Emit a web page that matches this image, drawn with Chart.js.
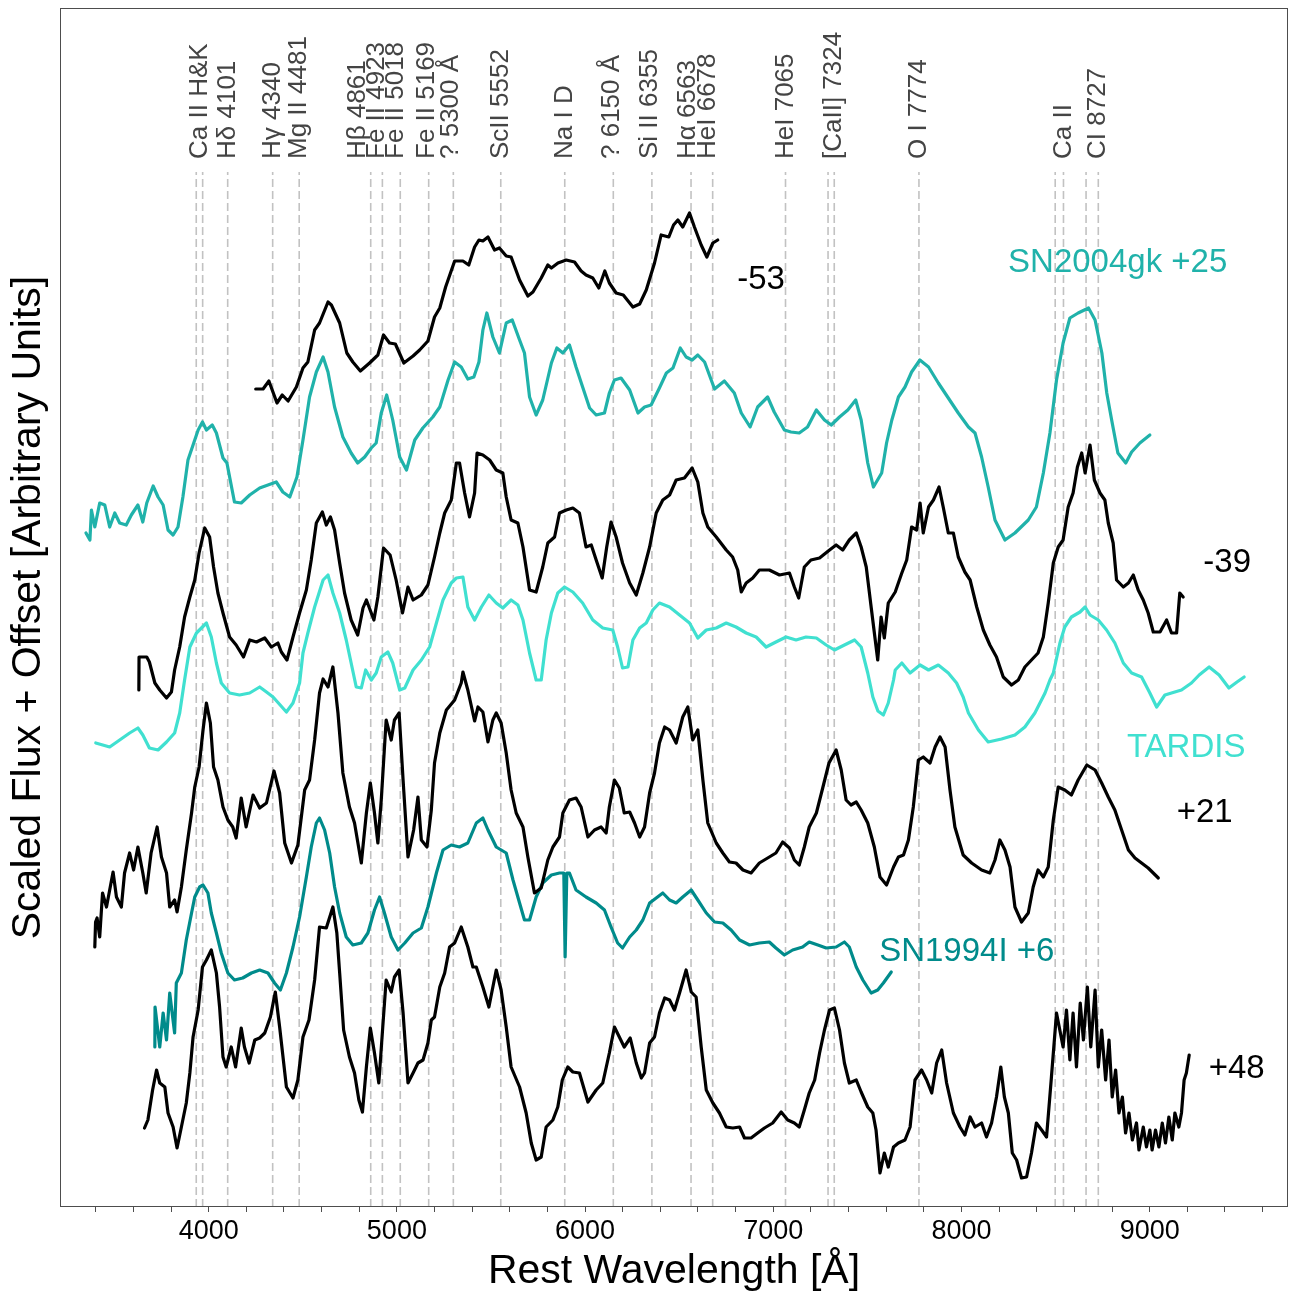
<!DOCTYPE html>
<html>
<head>
<meta charset="utf-8">
<title>Spectral sequence</title>
<script src="https://cdn.jsdelivr.net/npm/chart.js@4.4.0/dist/chart.umd.min.js"></script>
<style>
  html, body { margin: 0; padding: 0; background: #fff; }
  canvas { display: block; }
</style>
</head>
<body>
<canvas id="spectraChart" width="1289" height="1296"></canvas>
<script>
// rest wavelength [A], scaled flux + offset
const specM53 = [[4250,8.18],[4289,8.18],[4320,8.26],[4363,8.04],[4391,8.12],[4422,8.06],[4466,8.20],[4501,8.39],[4527,8.45],[4563,8.77],[4589,8.84],[4634,9.05],[4652,9.02],[4696,8.84],[4734,8.54],[4766,8.45],[4806,8.36],[4855,8.44],[4899,8.52],[4929,8.72],[4961,8.64],[4992,8.63],[5037,8.44],[5086,8.51],[5121,8.57],[5165,8.66],[5200,8.90],[5228,8.99],[5259,9.20],[5307,9.46],[5351,9.46],[5382,9.42],[5413,9.60],[5436,9.67],[5457,9.66],[5484,9.70],[5519,9.57],[5545,9.59],[5581,9.51],[5607,9.50],[5652,9.27],[5696,9.11],[5723,9.15],[5767,9.29],[5802,9.42],[5821,9.39],[5856,9.44],[5900,9.47],[5944,9.45],[5979,9.36],[6005,9.32],[6041,9.29],[6073,9.19],[6105,9.36],[6129,9.24],[6165,9.14],[6203,9.12],[6254,9.00],[6290,9.03],[6325,9.17],[6369,9.44],[6404,9.72],[6445,9.70],[6470,9.82],[6493,9.87],[6519,9.80],[6555,9.94],[6581,9.80],[6617,9.62],[6647,9.50],[6679,9.64],[6705,9.67]];

const specGk = [[3348,6.74],[3369,6.67],[3377,6.97],[3395,6.80],[3421,7.04],[3448,7.02],[3474,6.80],[3501,6.94],[3527,6.84],[3562,6.82],[3589,6.92],[3624,7.02],[3650,6.85],[3671,7.04],[3705,7.21],[3731,7.10],[3758,7.02],[3784,6.77],[3811,6.72],[3837,6.80],[3863,7.10],[3890,7.47],[3917,7.62],[3944,7.77],[3967,7.85],[3988,7.77],[4019,7.82],[4041,7.74],[4076,7.49],[4097,7.44],[4137,7.05],[4173,7.04],[4218,7.12],[4271,7.19],[4315,7.22],[4359,7.25],[4394,7.15],[4431,7.10],[4469,7.30],[4501,7.67],[4536,8.10],[4572,8.35],[4608,8.50],[4634,8.35],[4669,8.00],[4713,7.70],[4757,7.54],[4792,7.44],[4829,7.50],[4864,7.59],[4890,7.64],[4917,7.94],[4946,8.12],[4978,7.87],[5015,7.50],[5051,7.37],[5095,7.67],[5138,7.79],[5191,7.90],[5228,8.00],[5272,8.27],[5307,8.45],[5342,8.40],[5377,8.28],[5409,8.30],[5436,8.45],[5457,8.77],[5478,8.94],[5510,8.70],[5545,8.54],[5581,8.84],[5613,8.87],[5652,8.67],[5678,8.54],[5705,8.10],[5740,7.92],[5775,8.07],[5821,8.44],[5850,8.59],[5882,8.54],[5917,8.62],[5952,8.40],[5987,8.20],[6024,7.99],[6059,7.92],[6103,7.94],[6129,8.14],[6156,8.27],[6191,8.29],[6237,8.17],[6281,7.94],[6316,8.00],[6351,8.02],[6395,8.19],[6432,8.34],[6467,8.39],[6506,8.59],[6537,8.50],[6569,8.47],[6599,8.52],[6635,8.45],[6688,8.18],[6740,8.26],[6793,8.14],[6830,7.94],[6877,7.80],[6917,8.00],[6970,8.10],[7005,7.95],[7059,7.77],[7094,7.75],[7138,7.74],[7182,7.80],[7229,7.97],[7272,7.87],[7308,7.82],[7352,7.90],[7396,7.97],[7438,8.07],[7467,7.87],[7502,7.44],[7532,7.20],[7576,7.34],[7602,7.64],[7630,7.87],[7665,8.10],[7700,8.20],[7735,8.35],[7779,8.47],[7825,8.40],[7877,8.24],[7930,8.09],[7983,7.94],[8037,7.80],[8072,7.74],[8107,7.50],[8142,7.20],[8178,6.87],[8231,6.67],[8284,6.74],[8355,6.87],[8398,7.00],[8435,7.34],[8470,7.74],[8505,8.27],[8540,8.64],[8576,8.89],[8620,8.94],[8675,8.99],[8710,8.87],[8746,8.54],[8772,8.14],[8798,7.87],[8831,7.54],[8873,7.44],[8904,7.55],[8948,7.64],[9001,7.72]];

const specM39 = [[3629,5.17],[3630,5.50],[3671,5.50],[3685,5.45],[3714,5.24],[3740,5.17],[3776,5.09],[3802,5.15],[3819,5.37],[3846,5.60],[3872,5.90],[3900,6.10],[3926,6.27],[3949,6.54],[3979,6.79],[4005,6.70],[4026,6.40],[4049,6.14],[4076,5.94],[4111,5.70],[4146,5.62],[4185,5.50],[4218,5.67],[4254,5.65],[4298,5.69],[4333,5.60],[4368,5.64],[4386,5.55],[4416,5.47],[4448,5.70],[4483,5.94],[4519,6.17],[4545,6.47],[4572,6.84],[4604,6.95],[4625,6.82],[4647,6.90],[4669,6.77],[4696,6.44],[4722,6.14],[4757,5.87],[4792,5.72],[4820,5.99],[4838,6.07],[4878,5.87],[4899,6.10],[4929,6.59],[4964,6.52],[4996,6.27],[5030,5.94],[5059,6.20],[5086,6.07],[5130,6.12],[5165,6.22],[5200,6.50],[5228,6.74],[5254,6.94],[5289,7.07],[5316,7.44],[5333,7.44],[5360,7.14],[5386,6.90],[5413,7.14],[5426,7.54],[5457,7.52],[5493,7.47],[5528,7.37],[5563,7.34],[5581,7.10],[5607,6.87],[5643,6.84],[5670,6.60],[5705,6.17],[5740,6.15],[5775,6.40],[5802,6.64],[5838,6.70],[5864,6.94],[5900,6.97],[5935,6.99],[5970,6.94],[6005,6.60],[6033,6.62],[6059,6.47],[6091,6.29],[6115,6.60],[6138,6.85],[6165,6.70],[6199,6.44],[6237,6.24],[6272,6.12],[6307,6.34],[6343,6.60],[6378,6.94],[6413,7.07],[6449,7.12],[6484,7.27],[6528,7.29],[6569,7.39],[6599,7.25],[6626,6.94],[6652,6.80],[6697,6.70],[6750,6.57],[6784,6.50],[6811,6.37],[6830,6.15],[6856,6.24],[6891,6.29],[6926,6.37],[6979,6.37],[7033,6.32],[7086,6.34],[7112,6.20],[7135,6.09],[7165,6.40],[7200,6.47],[7246,6.49],[7299,6.57],[7334,6.62],[7369,6.57],[7404,6.67],[7441,6.74],[7467,6.60],[7494,6.40],[7520,6.00],[7555,5.47],[7573,5.90],[7590,5.69],[7611,6.04],[7648,6.15],[7683,6.34],[7709,6.47],[7735,6.80],[7762,6.77],[7780,7.04],[7797,6.74],[7825,7.00],[7851,7.07],[7881,7.20],[7904,6.99],[7930,6.74],[7957,6.74],[7983,6.50],[8018,6.35],[8046,6.27],[8081,6.00],[8116,5.77],[8151,5.62],[8186,5.50],[8222,5.30],[8266,5.22],[8302,5.27],[8337,5.40],[8372,5.47],[8407,5.54],[8435,5.70],[8461,6.04],[8488,6.44],[8514,6.60],[8540,6.67],[8567,7.00],[8593,7.14],[8616,7.40],[8639,7.54],[8657,7.34],[8683,7.62],[8706,7.27],[8736,7.14],[8762,7.07],[8780,6.84],[8806,6.64],[8824,6.27],[8860,6.20],[8887,6.24],[8913,6.32],[8939,6.17],[8966,6.07],[8992,5.94],[9019,5.75],[9055,5.75],[9090,5.87],[9116,5.74],[9143,5.74],[9160,6.14],[9178,6.10]];

const specTardis = [[3400,4.64],[3474,4.60],[3527,4.67],[3580,4.74],[3624,4.79],[3650,4.72],[3685,4.59],[3731,4.57],[3776,4.65],[3819,4.74],[3846,4.94],[3872,5.27],[3900,5.60],[3935,5.74],[3988,5.84],[4014,5.70],[4041,5.44],[4067,5.24],[4111,5.14],[4164,5.12],[4218,5.14],[4271,5.20],[4307,5.15],[4342,5.10],[4413,4.95],[4448,5.04],[4483,5.24],[4501,5.54],[4527,5.74],[4563,6.00],[4608,6.27],[4634,6.32],[4660,6.14],[4696,5.94],[4731,5.67],[4757,5.44],[4784,5.20],[4811,5.19],[4834,5.37],[4864,5.27],[4890,5.34],[4917,5.50],[4952,5.55],[4978,5.44],[5015,5.17],[5042,5.19],[5086,5.37],[5130,5.47],[5174,5.60],[5210,5.84],[5245,6.07],[5289,6.24],[5316,6.29],[5351,6.30],[5377,6.00],[5413,5.87],[5449,6.00],[5489,6.12],[5528,6.04],[5563,5.99],[5607,6.07],[5643,6.02],[5670,5.87],[5705,5.54],[5740,5.27],[5767,5.27],[5793,5.67],[5821,5.94],[5855,6.14],[5891,6.20],[5935,6.15],[5987,6.04],[6041,5.87],[6094,5.79],[6147,5.77],[6173,5.60],[6199,5.39],[6228,5.40],[6254,5.67],[6290,5.79],[6325,5.84],[6360,5.97],[6395,6.04],[6449,6.00],[6502,5.92],[6555,5.84],[6599,5.69],[6644,5.77],[6697,5.79],[6750,5.84],[6802,5.80],[6856,5.74],[6909,5.70],[6962,5.60],[7014,5.65],[7068,5.70],[7121,5.67],[7174,5.70],[7229,5.69],[7281,5.62],[7325,5.57],[7378,5.62],[7432,5.67],[7467,5.60],[7502,5.34],[7529,5.10],[7556,4.96],[7585,4.92],[7611,5.04],[7639,5.27],[7648,5.37],[7683,5.44],[7727,5.34],[7780,5.42],[7825,5.37],[7877,5.42],[7930,5.34],[7974,5.24],[8009,5.10],[8037,4.94],[8090,4.77],[8142,4.65],[8213,4.68],[8284,4.72],[8337,4.80],[8390,4.94],[8444,5.14],[8470,5.27],[8488,5.34],[8523,5.64],[8549,5.80],[8584,5.90],[8630,5.95],[8657,6.00],[8683,5.92],[8727,5.87],[8771,5.77],[8815,5.64],[8860,5.44],[8904,5.34],[8957,5.30],[9001,5.14],[9037,5.00],[9081,5.12],[9116,5.14],[9169,5.17],[9222,5.24],[9263,5.32],[9316,5.40],[9369,5.32],[9421,5.19],[9464,5.25],[9502,5.30]];

const specP21 = [[3395,2.60],[3399,2.85],[3407,2.89],[3421,2.70],[3436,3.14],[3457,3.00],[3474,3.17],[3492,3.35],[3510,3.10],[3536,3.00],[3553,3.34],[3580,3.54],[3601,3.37],[3624,3.60],[3650,3.34],[3668,3.14],[3694,3.54],[3726,3.80],[3749,3.50],[3776,3.34],[3793,3.00],[3819,3.07],[3832,2.95],[3855,3.20],[3881,3.57],[3909,3.94],[3926,4.20],[3949,4.40],[3970,4.77],[3988,5.04],[4009,4.84],[4026,4.40],[4049,4.27],[4076,4.00],[4102,3.87],[4128,3.80],[4146,3.69],[4173,4.09],[4199,3.80],[4236,4.12],[4271,3.99],[4307,4.04],[4347,4.36],[4377,4.14],[4404,3.64],[4440,3.44],[4474,3.62],[4510,4.17],[4536,4.27],[4563,4.67],[4589,5.14],[4608,5.28],[4634,5.20],[4660,5.40],[4687,4.94],[4713,4.34],[4748,4.00],[4775,3.84],[4811,3.44],[4838,3.94],[4859,4.24],[4881,3.94],[4899,3.64],[4917,4.07],[4943,4.87],[4970,4.67],[4987,4.87],[5012,4.94],[5033,4.27],[5059,3.50],[5089,3.77],[5112,4.10],[5130,3.67],[5160,3.60],[5183,3.97],[5200,4.44],[5228,4.74],[5263,4.97],[5307,5.07],[5342,5.24],[5351,5.35],[5377,5.17],[5413,4.86],[5431,5.00],[5457,4.95],[5484,4.65],[5510,4.87],[5528,4.94],[5554,4.84],[5581,4.54],[5607,4.17],[5634,3.94],[5670,3.80],[5696,3.50],[5731,3.14],[5767,3.19],[5802,3.47],[5829,3.60],[5864,3.70],[5882,3.94],[5917,4.07],[5952,4.09],[5979,4.00],[6015,3.70],[6050,3.77],[6085,3.80],[6112,3.74],[6129,4.00],[6156,4.27],[6182,4.19],[6208,3.94],[6237,3.95],[6263,3.84],[6290,3.70],[6316,3.80],[6343,4.14],[6369,4.34],[6395,4.64],[6423,4.80],[6449,4.77],[6484,4.64],[6519,4.90],[6546,5.00],[6572,4.67],[6599,4.77],[6626,4.27],[6652,3.84],[6697,3.64],[6732,3.54],[6767,3.45],[6802,3.44],[6839,3.37],[6882,3.34],[6926,3.44],[6979,3.50],[7014,3.54],[7050,3.65],[7086,3.59],[7112,3.47],[7138,3.42],[7165,3.60],[7191,3.80],[7229,3.94],[7264,4.20],[7296,4.44],[7334,4.57],[7361,4.37],[7387,4.07],[7413,4.02],[7441,4.05],[7467,3.97],[7502,3.84],[7537,3.60],[7567,3.30],[7602,3.22],[7639,3.40],[7665,3.50],[7692,3.52],[7718,3.67],[7744,4.00],[7771,4.47],[7797,4.50],[7833,4.44],[7860,4.60],[7886,4.70],[7913,4.60],[7939,4.17],[7965,3.80],[8009,3.52],[8054,3.44],[8107,3.37],[8151,3.34],[8178,3.47],[8204,3.67],[8231,3.57],[8258,3.40],[8284,3.00],[8319,2.85],[8355,2.94],[8381,3.20],[8407,3.37],[8435,3.30],[8461,3.40],[8488,3.87],[8514,4.20],[8549,4.17],[8584,4.12],[8620,4.27],[8666,4.42],[8710,4.37],[8745,4.24],[8780,4.10],[8815,3.97],[8851,3.77],[8887,3.57],[8922,3.49],[8957,3.44],[8992,3.39],[9046,3.29]];

const spec94I = [[3714,1.60],[3715,2.00],[3740,1.60],[3758,1.94],[3776,1.67],[3793,2.14],[3819,1.74],[3828,2.24],[3855,2.34],[3881,2.67],[3909,2.94],[3926,3.10],[3952,3.20],[3970,3.22],[3996,3.14],[4014,2.94],[4041,2.74],[4067,2.54],[4102,2.34],[4137,2.27],[4181,2.29],[4227,2.34],[4271,2.37],[4315,2.34],[4350,2.24],[4381,2.17],[4413,2.34],[4448,2.60],[4483,2.90],[4519,3.30],[4545,3.60],[4572,3.84],[4589,3.89],[4616,3.77],[4643,3.54],[4669,3.20],[4696,2.94],[4731,2.70],[4766,2.62],[4811,2.64],[4846,2.74],[4881,2.97],[4908,3.10],[4934,2.94],[4970,2.70],[5006,2.57],[5042,2.64],[5086,2.74],[5130,2.79],[5165,3.00],[5210,3.34],[5245,3.57],[5289,3.62],[5333,3.60],[5377,3.64],[5422,3.84],[5457,3.89],[5484,3.77],[5528,3.60],[5581,3.54],[5617,3.27],[5652,3.04],[5678,2.87],[5705,2.87],[5740,3.10],[5775,3.24],[5821,3.32],[5864,3.34],[5887,3.34],[5894,2.50],[5903,3.34],[5917,3.34],[5952,3.17],[6005,3.10],[6059,3.04],[6103,2.97],[6138,2.80],[6173,2.64],[6199,2.59],[6237,2.70],[6272,2.77],[6307,2.87],[6343,3.04],[6378,3.09],[6413,3.14],[6449,3.07],[6484,3.04],[6519,3.10],[6564,3.17],[6599,3.07],[6644,2.94],[6688,2.85],[6732,2.84],[6776,2.77],[6821,2.67],[6874,2.62],[6926,2.64],[6979,2.65],[7014,2.59],[7059,2.52],[7103,2.57],[7156,2.60],[7191,2.65],[7237,2.62],[7281,2.59],[7334,2.60],[7378,2.65],[7404,2.60],[7441,2.40],[7476,2.27],[7520,2.14],[7555,2.17],[7585,2.24],[7627,2.35]];

const specP48 = [[3659,0.79],[3677,0.87],[3702,1.17],[3723,1.37],[3740,1.24],[3767,1.20],[3784,0.94],[3811,0.80],[3832,0.59],[3855,0.80],[3881,1.04],[3900,1.34],[3917,1.70],[3944,1.97],[3967,2.40],[3988,2.47],[4014,2.57],[4041,2.34],[4058,2.00],[4076,1.50],[4093,1.40],[4120,1.60],[4143,1.40],[4173,1.79],[4190,1.60],[4215,1.44],[4245,1.67],[4271,1.69],[4298,1.74],[4328,1.90],[4354,2.15],[4377,1.80],[4413,1.20],[4448,1.09],[4474,1.27],[4501,1.70],[4533,1.87],[4563,2.27],[4589,2.80],[4625,2.79],[4660,3.00],[4681,2.74],[4696,2.34],[4717,1.77],[4748,1.50],[4775,1.34],[4798,1.07],[4817,0.95],[4838,1.40],[4859,1.79],[4881,1.54],[4904,1.24],[4925,1.80],[4943,2.27],[4970,2.15],[4987,2.30],[5012,2.37],[5033,1.94],[5059,1.24],[5086,1.34],[5112,1.44],[5139,1.47],[5165,1.64],[5183,1.87],[5200,1.90],[5228,2.20],[5254,2.34],[5280,2.60],[5307,2.64],[5342,2.80],[5377,2.60],[5404,2.40],[5422,2.40],[5457,2.20],[5489,2.00],[5528,2.37],[5554,2.17],[5581,1.80],[5607,1.40],[5652,1.20],[5687,0.94],[5714,0.64],[5740,0.47],[5767,0.50],[5793,0.80],[5829,0.87],[5855,1.00],[5879,1.27],[5908,1.40],[5935,1.35],[5970,1.34],[6015,1.05],[6059,1.17],[6094,1.24],[6129,1.54],[6156,1.80],[6182,1.70],[6208,1.60],[6240,1.69],[6272,1.44],[6299,1.29],[6316,1.34],[6343,1.64],[6369,1.70],[6395,1.94],[6423,2.09],[6449,2.07],[6475,1.97],[6502,2.14],[6537,2.37],[6564,2.15],[6590,2.10],[6617,1.60],[6644,1.17],[6679,1.04],[6714,0.94],[6750,0.80],[6785,0.79],[6821,0.80],[6847,0.69],[6882,0.69],[6917,0.74],[6953,0.79],[6997,0.84],[7042,0.95],[7077,0.87],[7112,0.84],[7138,0.80],[7165,0.97],[7191,1.14],[7220,1.27],[7246,1.54],[7272,1.77],[7299,1.97],[7325,1.99],[7352,1.77],[7378,1.44],[7404,1.24],[7441,1.27],[7467,1.15],[7502,1.00],[7529,0.94],[7546,0.77],[7567,0.34],[7590,0.54],[7611,0.40],[7639,0.60],[7665,0.64],[7700,0.67],[7727,0.80],[7753,1.27],[7788,1.37],[7815,1.27],[7842,1.14],[7868,1.44],[7895,1.57],[7921,1.24],[7957,0.94],[7992,0.80],[8018,0.72],[8046,0.90],[8072,0.80],[8107,0.84],[8133,0.70],[8160,0.84],[8186,1.10],[8209,1.40],[8228,1.10],[8249,0.94],[8270,0.54],[8293,0.47],[8319,0.29],[8346,0.30],[8372,0.54],[8398,0.84],[8426,0.77],[8452,0.70],[8478,1.30],[8505,1.94],[8540,1.60],[8558,1.97],[8576,1.47],[8593,1.94],[8611,1.40],[8631,2.04],[8648,1.67],[8669,2.20],[8687,1.60],[8710,2.17],[8727,1.40],[8745,1.77],[8766,1.27],[8784,1.67],[8801,1.10],[8819,1.37],[8837,0.94],[8855,1.10],[8872,0.74],[8890,0.94],[8908,0.67],[8930,0.84],[8943,0.57],[8966,0.80],[8983,0.60],[9001,0.77],[9013,0.57],[9031,0.77],[9049,0.60],[9067,0.84],[9084,0.64],[9102,0.90],[9120,0.67],[9134,0.94],[9155,0.80],[9169,0.94],[9183,1.27],[9195,1.34],[9210,1.52]];

// identified lines: dashed marker wavelengths, then the label texts and where they sit
const lineWaves = [3934, 3968, 4101, 4340, 4481, 4861, 4923, 5018, 5169, 5300, 5552, 5892, 6150, 6355, 6563, 6678, 7065, 7291, 7324, 7774, 8498, 8542, 8662, 8727];
const lineNames = ['Ca II H&K', 'Hδ 4101', 'Hγ 4340', 'Mg II 4481', 'Hβ 4861', 'Fe II 4923', 'Fe II 5018', 'Fe II 5169', '? 5300 Å', 'ScII 5552', 'Na I D', '? 6150 Å', 'Si II 6355', 'Hα 6563', 'HeI 6678', 'HeI 7065', '[CaII] 7324', 'O I 7774', 'Ca II', 'CI 8727'];
const nameWaves = [3951, 4101, 4340, 4481, 4793, 4894, 4995, 5160, 5285, 5552, 5892, 6140, 6345, 6545, 6652, 7065, 7324, 7774, 8542, 8727];

// spectrum tags (epoch / comparison object)
const tagTexts = ['-53', 'SN2004gk +25', '-39', 'TARDIS', '+21', 'SN1994I +6', '+48'];
const tagWaves = [6935, 8830, 9412, 9194, 9292, 8028, 9462];
const tagFluxes = [9.30, 9.47, 6.47, 4.62, 3.97, 2.575, 1.405];

const FONT = '"Liberation Sans", Arial, Helvetica, sans-serif';
const BLACK = '#000000';
const SEAGREEN = '#20b2aa';
const TURQUOISE = '#40e0d0';
const DARKCYAN = '#008b8b';
const tagColors = [BLACK, SEAGREEN, BLACK, TURQUOISE, BLACK, DARKCYAN, BLACK];

const markerTop = 10.35;
const labelBase = 10.48;

Chart.defaults.font.family = FONT;

function toPoints(spec) {
    return spec.map(p => ({ x: p[0], y: p[1] }));
}

function spectrum(spec, color) {
    return {
        data: toPoints(spec),
        borderColor: color,
        borderWidth: 3.2,
        borderJoinStyle: 'round',
        borderCapStyle: 'round',
        pointRadius: 0,
        fill: false,
        tension: 0
    };
}

// dashed line markers and their rotated labels, under the spectra
const lineMarkers = {
    id: 'lineMarkers',
    beforeDatasetsDraw(chart) {
        const { ctx, chartArea, scales: { x, y } } = chart;
        const top = y.getPixelForValue(markerTop);
        ctx.save();
        ctx.strokeStyle = '#c2c2c2';
        ctx.lineWidth = 1.6;
        ctx.setLineDash([8, 4]);
        lineWaves.forEach(w => {
            const px = x.getPixelForValue(w);
            ctx.beginPath();
            ctx.moveTo(px, chartArea.bottom);
            ctx.lineTo(px, top);
            ctx.stroke();
        });
        ctx.setLineDash([]);

        const base = y.getPixelForValue(labelBase);
        ctx.fillStyle = '#444444';
        ctx.font = '26px ' + FONT;
        ctx.textAlign = 'left';
        ctx.textBaseline = 'middle';
        lineNames.forEach((name, i) => {
            ctx.save();
            ctx.translate(x.getPixelForValue(nameWaves[i]), base);
            ctx.rotate(-Math.PI / 2);
            ctx.fillText(name, 0, 0);
            ctx.restore();
        });
        ctx.restore();
    }
};

const TAG_SIZE = 33;
const spectrumTags = {
    id: 'spectrumTags',
    afterDatasetsDraw(chart) {
        const { ctx, scales: { x, y } } = chart;
        ctx.save();
        ctx.font = TAG_SIZE + 'px ' + FONT;
        ctx.textAlign = 'center';
        ctx.textBaseline = 'alphabetic';
        tagTexts.forEach((t, i) => {
            ctx.fillStyle = tagColors[i];
            // anchor is the middle of the capitals
            ctx.fillText(t, x.getPixelForValue(tagWaves[i]), y.getPixelForValue(tagFluxes[i]) + TAG_SIZE * 0.36);
        });
        ctx.restore();
    }
};

// full box around the plot
const frame = {
    id: 'frame',
    afterDraw(chart) {
        const { ctx, chartArea } = chart;
        ctx.save();
        ctx.strokeStyle = '#4d4d4d';
        ctx.lineWidth = 1;
        ctx.strokeRect(chartArea.left + 0.5, chartArea.top + 0.5, chartArea.width - 1, chartArea.height - 1);
        ctx.restore();
    }
};

const ctx = document.getElementById('spectraChart').getContext('2d');
window.myChart = new Chart(ctx, {
    type: 'line',
    data: {
        datasets: [
            spectrum(specM53, BLACK),
            spectrum(specGk, SEAGREEN),
            spectrum(specM39, BLACK),
            spectrum(specTardis, TURQUOISE),
            spectrum(specP21, BLACK),
            spectrum(spec94I, DARKCYAN),
            spectrum(specP48, BLACK)
        ]
    },
    options: {
        responsive: false,
        animation: false,
        layout: { padding: { top: 8, right: 1, left: 0, bottom: 0 } },
        plugins: {
            legend: { display: false },
            tooltip: { enabled: false }
        },
        scales: {
            x: {
                type: 'linear',
                min: 3210,
                max: 9735,
                afterFit: scale => { scale.height = 89; },
                border: { display: false },
                grid: {
                    drawOnChartArea: false,
                    drawTicks: true,
                    tickLength: 5,
                    color: '#4d4d4d',
                    lineWidth: 1
                },
                ticks: {
                    stepSize: 200,
                    includeBounds: false,
                    autoSkip: false,
                    maxRotation: 0,
                    padding: 3,
                    color: '#000',
                    font: { size: 27 },
                    callback: v => (v % 1000 === 0 ? String(v) : '')
                },
                title: {
                    display: true,
                    text: 'Rest Wavelength [Å]',
                    color: '#000',
                    font: { size: 41 },
                    padding: { top: 0, bottom: 0 }
                }
            },
            y: {
                min: 0,
                max: 11.99,
                afterFit: scale => { scale.width = 60; },
                border: { display: false },
                grid: { display: false },
                ticks: { display: false },
                title: {
                    display: true,
                    text: 'Scaled Flux + Offset [Arbitrary Units]',
                    color: '#000',
                    font: { size: 41 },
                    padding: { top: 4, bottom: 0 }
                }
            }
        }
    },
    plugins: [lineMarkers, spectrumTags, frame]
});
</script>
</body>
</html>
